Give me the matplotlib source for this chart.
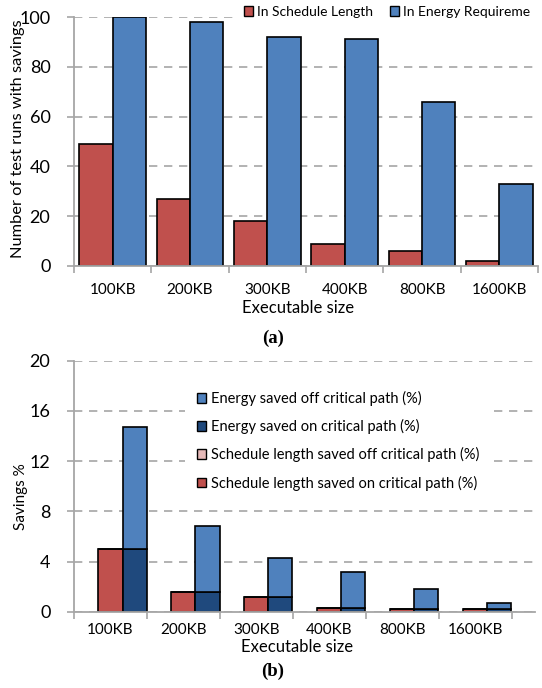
import numpy as np
import matplotlib
matplotlib.use('Agg')
import matplotlib.pyplot as plt
from matplotlib.patches import Patch

plt.rcParams['font.family'] = ['Lato', 'DejaVu Sans']

sizes = ['100KB', '200KB', '300KB', '400KB', '800KB', '1600KB']

# (a) number of test runs with savings
runs_schedule = [49, 27, 18, 9, 6, 2]
runs_energy = [100, 98, 92, 91, 66, 33]

# (b) savings in %
sched_on = [5.0, 1.6, 1.2, 0.3, 0.2, 0.2]
sched_off = [0, 0, 0, 0, 0, 0]
energy_on = [5.0, 1.6, 1.2, 0.3, 0.2, 0.2]
energy_off = [9.7, 5.2, 3.05, 2.9, 1.6, 0.5]

red = '#C0504D'
blue = '#4F81BD'
dblue = '#1F497D'
pink = '#E6B9B8'
grey = '#A6A6A6'

fig = plt.figure(figsize=(5.42, 6.88), dpi=100)
x = np.arange(len(sizes))


def style_axes(ax, ymax, ystep, xmax):
    ax.set_xlim(-0.5, xmax)
    ax.set_ylim(0, ymax)
    ax.set_yticks(np.arange(0, ymax + 1, ystep))
    ax.set_xticks(np.arange(-0.5, len(sizes), 1.0))
    ax.set_xticklabels([])
    ax.set_xticks(x, minor=True)
    ax.set_xticklabels(sizes, minor=True)
    ax.tick_params(axis='x', which='minor', length=0, pad=12, labelsize=11)
    ax.tick_params(axis='x', which='major', length=5, color=grey, width=1.2)
    ax.tick_params(axis='y', length=5, color=grey, width=1.2, pad=12, labelsize=13)
    for s in ['top', 'right']:
        ax.spines[s].set_visible(False)
    for s in ['left', 'bottom']:
        ax.spines[s].set_color(grey)
        ax.spines[s].set_linewidth(1.3)
    ax.set_axisbelow(True)
    ax.yaxis.grid(True, linestyle=(0, (5, 4)), color=grey, linewidth=1.2)


# ---- (a) ----
ax1 = fig.add_axes([74 / 542, 1 - 266 / 688, 464 / 542, 249 / 688])
w = 0.43
ax1.bar(x - w / 2, runs_schedule, w, color=red, edgecolor='black', linewidth=1.2)
ax1.bar(x + w / 2, runs_energy, w, color=blue, edgecolor='black', linewidth=1.2)
style_axes(ax1, 100, 20, 5.5)
ax1.set_ylabel('Number of test runs with savings', fontsize=11.8)
ax1.yaxis.set_label_coords(-0.106, 0.51)
ax1.set_xlabel('Executable size', fontsize=12)
ax1.xaxis.set_label_coords(0.482, -0.135)

fig.legend(handles=[Patch(facecolor=red, edgecolor='black'),
                    Patch(facecolor=blue, edgecolor='black')],
           labels=['In Schedule Length', 'In Energy Requireme'],
           loc='center left', bbox_to_anchor=(233 / 542, 1 - 12 / 688),
           ncol=2, fontsize=10, frameon=True, facecolor='white',
           edgecolor='none', framealpha=1, fancybox=False,
           handlelength=0.65, handleheight=0.65, handletextpad=0.3,
           columnspacing=1.2, borderpad=0.8, borderaxespad=0)

fig.text(273 / 542, 1 - 338.5 / 688, '(a)', family='Liberation Serif',
         fontweight='bold', fontsize=13.5, ha='center', va='center')

# ---- (b) ----
ax2 = fig.add_axes([74 / 542, 1 - 611.7 / 688, 461 / 542, 251 / 688])
wb = 0.33
ax2.bar(x, sched_on, wb, color=red, edgecolor='black', linewidth=1.2)
ax2.bar(x, sched_off, wb, bottom=sched_on, color=pink, edgecolor='black', linewidth=1.2)
ax2.bar(x + wb, energy_on, wb, color=dblue, edgecolor='black', linewidth=1.2)
ax2.bar(x + wb, energy_off, wb, bottom=energy_on, color=blue, edgecolor='black', linewidth=1.2)
style_axes(ax2, 20, 4, 5.82)
ax2.tick_params(axis='x', which='minor', pad=8)
ax2.set_ylabel('Savings %', fontsize=11)
ax2.yaxis.set_label_coords(-0.1, 0.457)
ax2.set_xlabel('Executable size', fontsize=12)
ax2.xaxis.set_label_coords(0.484, -0.108)

ax2.legend(handles=[Patch(facecolor=blue, edgecolor='black'),
                    Patch(facecolor=dblue, edgecolor='black'),
                    Patch(facecolor=pink, edgecolor='black'),
                    Patch(facecolor=red, edgecolor='black')],
           labels=['Energy saved off critical path (%)',
                   'Energy saved on critical path (%)',
                   'Schedule length saved off critical path (%)',
                   'Schedule length saved on critical path (%)'],
           loc='upper left', bbox_to_anchor=(111 / 461, 0.926),
           fontsize=10.5, frameon=True, facecolor='white',
           edgecolor='none', framealpha=1, fancybox=False,
           handlelength=0.65, handleheight=0.65, handletextpad=0.3,
           labelspacing=0.9, borderpad=0.8, borderaxespad=0)

fig.text(273 / 542, 1 - 671 / 688, '(b)', family='Liberation Serif',
         fontweight='bold', fontsize=13.5, ha='center', va='center')

fig.savefig('out.png', dpi=100)
